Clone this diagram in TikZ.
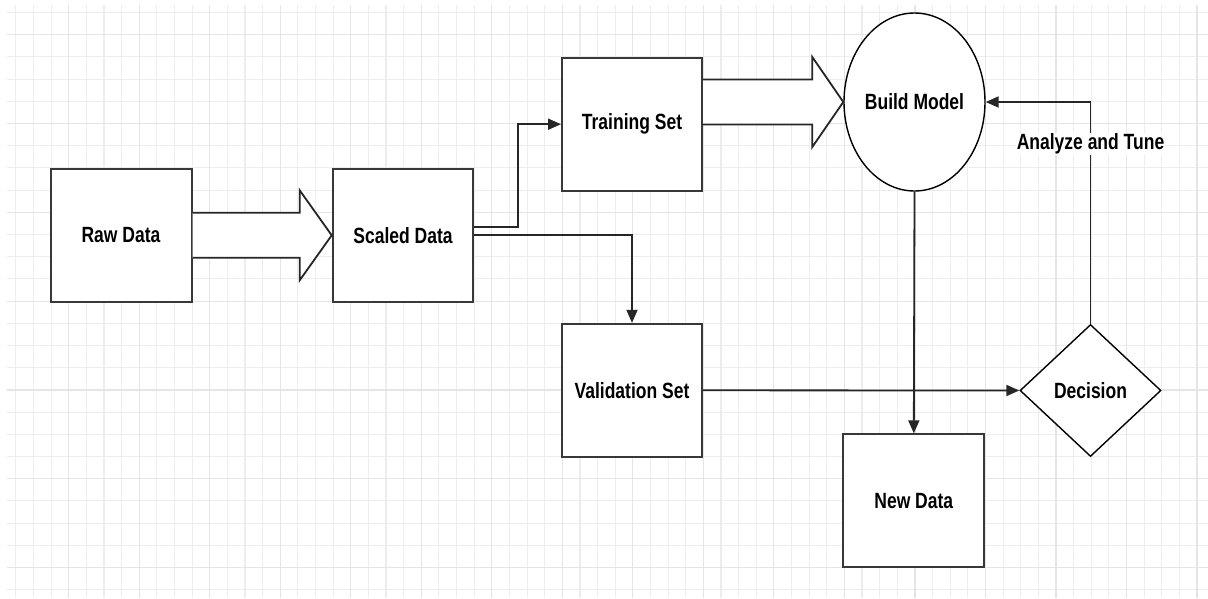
\documentclass[tikz,border=0pt]{standalone}
\usepackage{fontspec}
\setmainfont{Liberation Sans}
\usepackage{graphicx}
\usetikzlibrary{positioning,arrows.meta,shapes.geometric,calc}

\newcommand{\tallt}[1]{\scalebox{1}[1.26]{#1}}

\begin{document}
\begin{tikzpicture}[x=1pt, y=-1pt,
    box/.style={rectangle, draw=black!78, line width=2pt, fill=white, minimum width=141pt, minimum height=133pt, inner sep=0pt, font=\bfseries\fontsize{17.5}{20}\selectfont},
    blob/.style={draw=black, line width=1.4pt, fill=white, inner sep=0pt, font=\bfseries\fontsize{17.5}{20}\selectfont},
    arrow/.style={-{Triangle[length=13pt, width=11pt]}, draw=black!85, line width=1.8pt},
    fat/.style={draw=black!85, line width=1.8pt, fill=white, line join=miter},
    lbl/.style={fill=white, inner sep=1pt, font=\bfseries\fontsize{17.5}{20}\selectfont},
    minorgrid/.style={draw=black!7, line width=1.1pt},
    majorgrid/.style={draw=black!10, line width=1.2pt},
]
\useasboundingbox (0,0) rectangle (1208,598);
\fill[white] (0,0) rectangle (1208,598);

% grid paper
\foreach \i in {0,...,67}
    \draw[minorgrid] (15.8+17.63*\i,5) -- (15.8+17.63*\i,598);
\foreach \j in {0,...,26}
    \draw[minorgrid] (7,12.5+22.2*\j) -- (1208,12.5+22.2*\j);
\foreach \i in {3,7,...,67}
    \draw[majorgrid] (15.8+17.63*\i,5) -- (15.8+17.63*\i,598);
\foreach \j in {1,5,...,25}
    \draw[majorgrid] (7,12.5+22.2*\j) -- (1208,12.5+22.2*\j);

% data boxes
\node[box] (raw) at (121,235.3) {\tallt{Raw Data}};
\node[box, minimum width=140.6pt] (scaled) at (403,235.3) {\tallt{Scaled Data}};
\node[box, minimum width=140pt] (train) at (632,124.2) {\tallt{Training Set}};
\node[box, minimum width=140pt] (valid) at (632,390.3) {\tallt{Validation Set}};
\node[box] (newdata) at (913.8,500.8) {\tallt{New Data}};

% model and decision
\node[blob, ellipse, minimum width=141pt, minimum height=178pt] (build) at (914.5,102) {\tallt{Build Model}};
\node[blob, diamond, aspect=1.07, minimum width=141pt, minimum height=132pt] (decide) at (1090.5,390.5) {\tallt{Decision}};

% block arrows
\draw[fat] ($(raw.east)+(0,-22.5)$) -| ($(scaled.west)+(-32,-45)$) -- (scaled.west)
    -- ($(scaled.west)+(-32,45)$) |- ($(raw.east)+(0,22.5)$);
\draw[fat] ($(train.east |- build.west)+(0,-22.5)$) -| ($(build.west)+(-31,-45)$) -- (build.west)
    -- ($(build.west)+(-31,45)$) |- ($(train.east |- build.west)+(0,22.5)$);

% connectors
\draw[arrow] ($(scaled.east)+(0,-8.5)$) -- ++(44,0) |- (train.west);
\draw[arrow] (scaled.east) -| (valid.north);
\draw[arrow] (valid.east) -- (decide.west);
\draw[arrow] (build.south) -- (newdata.north);
\draw[arrow] (decide.north) |- node[lbl, pos=0.405] {\tallt{Analyze and Tune}} (build.east);
\end{tikzpicture}
\end{document}
